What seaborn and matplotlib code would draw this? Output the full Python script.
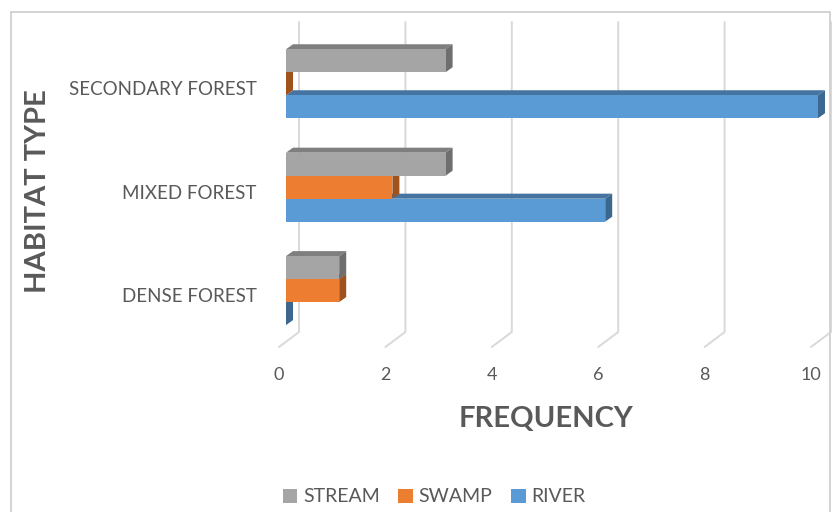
import pandas as pd
import matplotlib
matplotlib.use("Agg")
import matplotlib.pyplot as plt
import matplotlib.transforms as mtransforms
from matplotlib.patches import Polygon, Rectangle
import seaborn as sns

# === DATA ===
habitats = ["SECONDARY FOREST", "MIXED FOREST", "DENSE FOREST"]
series = ["STREAM", "SWAMP", "RIVER"]
stream = [3, 3, 1]
swamp = [0, 2, 1]
river = [10, 6, 0]
x_ticks = [0, 2, 4, 6, 8, 10]

colors = {"STREAM": "#A5A5A5", "SWAMP": "#ED7D31", "RIVER": "#5B9BD5"}
top_colors = {"STREAM": "#7F7F7F", "SWAMP": "#B25E25", "RIVER": "#44749F"}
side_colors = {"STREAM": "#6E6E6E", "SWAMP": "#A0521D", "RIVER": "#3C6890"}
text_col = "#595959"

df = pd.DataFrame({
    "habitat": habitats * len(series),
    "site": [s for s in series for _ in habitats],
    "freq": stream + swamp + river,
})

sns.set_theme(style="white")
plt.rcParams["font.family"] = ["Lato", "DejaVu Sans"]

W, H = 832, 512
fig = plt.figure(figsize=(W / 100, H / 100), dpi=100)
# axes = front plane of the bars
ax = fig.add_axes([286 / W, 1 - 342 / H, 532 / W, 320 / H])
sns.barplot(data=df, x="freq", y="habitat", hue="site", order=habitats,
            hue_order=series, palette=colors, width=0.667, orient="h",
            saturation=1, linewidth=0, legend=False, ax=ax)
ax.set_xlim(0, 10)
ax.set_ylim(2.497, -0.597)
for s in ax.spines.values():
    s.set_visible(False)
ax.set_xlabel("")
ax.set_ylabel("")

to_data = ax.transData.inverted()
dx, dy = 7, 5  # bar depth in pixels

# === 3D faces on the bars ===
rank = {"RIVER": 1, "SWAMP": 2, "STREAM": 3}
for cont, name in zip(ax.containers, series):
    z = 2 * rank[name]
    for bar in cont:
        bar.set_zorder(z + 0.5)
        x0, y0 = bar.get_x(), bar.get_y()
        x1, y1 = x0 + bar.get_width(), y0 + bar.get_height()
        (l, t), (r, b) = ax.transData.transform([(x0, y0), (x1, y1)])
        top = [(l, t), (r, t), (r + dx, t + dy), (l + dx, t + dy)]
        side = [(r, t), (r, b), (r + dx, b + dy), (r + dx, t + dy)]
        ax.add_patch(Polygon(to_data.transform(top), closed=True, facecolor=top_colors[name],
                             edgecolor="none", zorder=z, clip_on=False))
        ax.add_patch(Polygon(to_data.transform(side), closed=True, facecolor=side_colors[name],
                             edgecolor="none", zorder=z + 0.2, clip_on=False))

# === gridlines on the back wall + floor ===
for v in x_ticks:
    px, pb = ax.transData.transform((v, 2.497))
    _, pt = ax.transData.transform((v, -0.597))
    pts = [(px + 13, pt), (px + 13, pb + 10), (px - 7, pb - 5)]
    xs, ys = zip(*to_data.transform(pts))
    ax.plot(xs, ys, color="#D9D9D9", lw=1.4, zorder=0, clip_on=False)

# === ticks ===
ax.set_xticks(x_ticks)
ax.set_xticklabels([str(v) for v in x_ticks])
ax.tick_params(axis="x", length=0, pad=18, labelsize=13, labelcolor=text_col)
ax.tick_params(axis="y", length=0, pad=21, labelsize=13.5, labelcolor=text_col)
for lab in ax.get_xticklabels():
    lab.set_transform(lab.get_transform() + mtransforms.ScaledTranslation(-0.07, 0, fig.dpi_scale_trans))
for lab in ax.get_yticklabels():
    lab.set_transform(lab.get_transform() + mtransforms.ScaledTranslation(0, -0.045, fig.dpi_scale_trans))

# === titles ===
fig.text(546 / W, 1 - 419 / H, "FREQUENCY", ha="center", va="center",
         fontsize=21, fontweight="bold", color=text_col)
fig.text(38 / W, 1 - 191 / H, "HABITAT TYPE", ha="center", va="center", rotation=90,
         fontsize=21, fontweight="bold", color=text_col)

# === legend ===
handles = [Rectangle((0, 0), 1, 1, facecolor=colors[s], edgecolor="none") for s in series]
fig.legend(handles, series, loc="center", bbox_to_anchor=(434 / W, 1 - 497 / H), ncol=3,
           frameon=False, fontsize=14, handlelength=0.75, handleheight=0.75,
           handletextpad=0.3, columnspacing=0.95, labelcolor=text_col)

# chart border
fig.patches.append(Rectangle((11 / W, -0.1), 819 / W, 1.1 - 12 / H, transform=fig.transFigure,
                             fill=False, edgecolor="#D0D0D0", lw=1.3))

fig.savefig("out.png", dpi=100)
